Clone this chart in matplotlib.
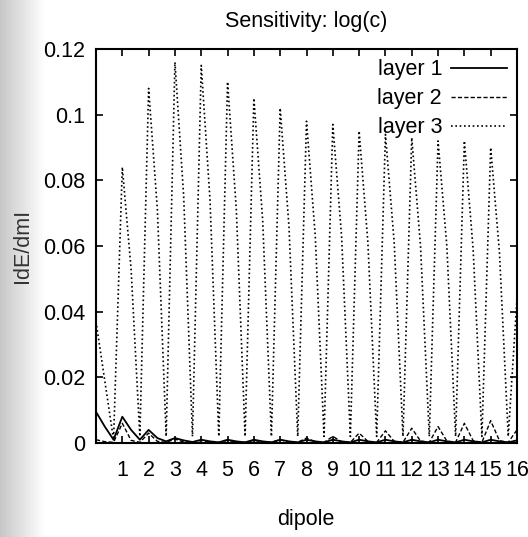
import numpy as np
import matplotlib
matplotlib.use("Agg")
import matplotlib.pyplot as plt

plt.rcParams['font.family'] = ['Liberation Sans', 'DejaVu Sans']

# ---- data ----
title = "Sensitivity: log(c)"
x_label = "dipole"
y_label = "IdE/dmI"
series_names = ["layer 1", "layer 2", "layer 3"]

# sample offsets inside one dipole (three samples per dipole)
component_offsets = [0.0, 1/3, 2/3]
dipoles = list(range(16))
last_position = 16.0

# values per dipole: [v(k), v(k+1/3), v(k+2/3)], then the final value at 16
layer1 = [
    [0.0095, 0.0050, 0.0010], [0.0080, 0.0040, 0.0010], [0.0040, 0.0015, 0.0005],
    [0.0015, 0.0008, 0.0003], [0.0010, 0.0005, 0.0002], [0.0010, 0.0005, 0.0002],
    [0.0010, 0.0005, 0.0002], [0.0010, 0.0005, 0.0002], [0.0010, 0.0005, 0.0002],
    [0.0010, 0.0005, 0.0002], [0.0010, 0.0005, 0.0002], [0.0010, 0.0005, 0.0002],
    [0.0010, 0.0005, 0.0002], [0.0010, 0.0005, 0.0002], [0.0010, 0.0005, 0.0002],
    [0.0010, 0.0005, 0.0002],
]
layer1_last = 0.0008

layer2 = [
    [0.0010, 0.0004, 0.0002], [0.0060, 0.0008, 0.0002], [0.0030, 0.0005, 0.0002],
    [0.0012, 0.0003, 0.0002], [0.0008, 0.0003, 0.0002], [0.0008, 0.0003, 0.0002],
    [0.0008, 0.0003, 0.0002], [0.0010, 0.0003, 0.0002], [0.0015, 0.0004, 0.0002],
    [0.0020, 0.0004, 0.0002], [0.0030, 0.0005, 0.0002], [0.0037, 0.0005, 0.0002],
    [0.0045, 0.0006, 0.0002], [0.0050, 0.0006, 0.0002], [0.0060, 0.0007, 0.0002],
    [0.0068, 0.0007, 0.0002],
]
layer2_last = 0.0040

layer3 = [
    [0.037, 0.019, 0.001], [0.084, 0.053, 0.002], [0.108, 0.071, 0.002],
    [0.116, 0.075, 0.002], [0.115, 0.074, 0.002], [0.110, 0.071, 0.002],
    [0.105, 0.068, 0.002], [0.102, 0.066, 0.002], [0.098, 0.063, 0.002],
    [0.097, 0.063, 0.002], [0.095, 0.061, 0.002], [0.094, 0.061, 0.002],
    [0.093, 0.060, 0.002], [0.092, 0.060, 0.002], [0.092, 0.059, 0.002],
    [0.090, 0.058, 0.002],
]
layer3_last = 0.044

x_ticks = list(range(1, 17))
y_ticks = [0, 0.02, 0.04, 0.06, 0.08, 0.1, 0.12]
y_tick_labels = ["0", "0.02", "0.04", "0.06", "0.08", "0.1", "0.12"]


def positions():
    xs = [k + o for k in dipoles for o in component_offsets]
    xs.append(last_position)
    return np.array(xs)


def flatten(rows, last):
    vals = [v for row in rows for v in row]
    vals.append(last)
    return np.array(vals)


x = positions()
y1 = flatten(layer1, layer1_last)
y2 = flatten(layer2, layer2_last)
y3 = flatten(layer3, layer3_last)

# ---- figure ----
W, H = 528, 537
fig = plt.figure(figsize=(W / 100, H / 100), dpi=100)

# scanned-paper shading on the left edge
bg = fig.add_axes([0, 0, 1, 1], zorder=-10)
cols = np.arange(W)
grad = np.tile(1.0 - 0.22 * np.clip(1 - cols / 45.0, 0, 1), (2, 1))
bg.imshow(grad, cmap='gray', vmin=0, vmax=1, aspect='auto', extent=[0, 1, 0, 1])
bg.axis('off')

ax = fig.add_axes([96 / W, 1 - 443 / H, (517 - 96) / W, (443 - 49) / H])
ax.set_facecolor('white')

ax.plot(x, y1, color='black', lw=1.3, ls='-', label=series_names[0])
ax.plot(x, y2, color='black', lw=1.0, ls=(0, (3, 1.6)), label=series_names[1])
ax.plot(x, y3, color='black', lw=1.2, ls=(0, (1, 1.6)), label=series_names[2])

ax.set_xlim(0, 16)
ax.set_ylim(0, 0.12)
ax.set_xticks(x_ticks)
ax.set_xticklabels([str(t) for t in x_ticks])
ax.set_yticks(y_ticks)
ax.set_yticklabels(y_tick_labels)

fs = 15.5
ax.tick_params(direction='in', length=5, width=1.2, top=True, right=True,
               labelsize=fs, pad=8, colors='black')
ax.tick_params(axis='x', pad=12)
for s in ax.spines.values():
    s.set_linewidth(1.5)

fig.text(306 / W, 1 - 22 / H, title, ha='center', va='center', fontsize=fs)
fig.text(306 / W, 1 - 520 / H, x_label, ha='center', va='center', fontsize=fs)
fig.text(22 / W, 1 - 246 / H, y_label, ha='center', va='center', fontsize=fs,
         rotation=90, color='#333333')

leg = ax.legend(loc='upper right', frameon=False, markerfirst=False, fontsize=fs,
                handlelength=2.6, handletextpad=0.4, labelspacing=0.37,
                borderaxespad=0.38, borderpad=0.1)

fig.savefig("out.png", dpi=100)
